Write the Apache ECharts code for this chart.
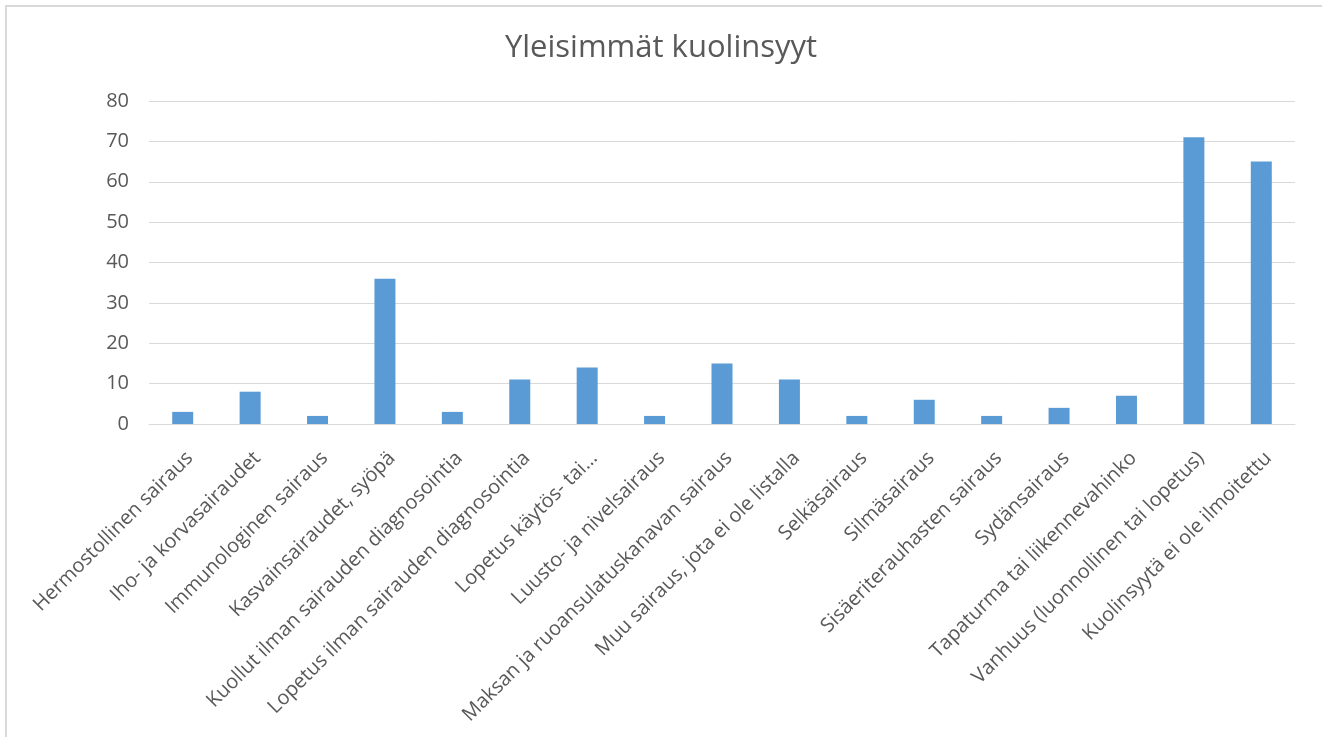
<!DOCTYPE html>
<html>
<head>
<meta charset="utf-8">
<script src="https://cdn.jsdelivr.net/npm/echarts@6/dist/echarts.min.js"></script>
<style>
  html, body { margin: 0; padding: 0; background: #fff; }
  #chart { width: 1322px; height: 737px; }
</style>
</head>
<body>
<div id="chart"></div>
<script>
// kuolinsyyt
const categories = [
  'Hermostollinen sairaus',
  'Iho- ja korvasairaudet',
  'Immunologinen sairaus',
  'Kasvainsairaudet, syöpä',
  'Kuollut ilman sairauden diagnosointia',
  'Lopetus ilman sairauden diagnosointia',
  'Lopetus käytös- tai…',
  'Luusto- ja nivelsairaus',
  'Maksan ja ruoansulatuskanavan sairaus',
  'Muu sairaus, jota ei ole listalla',
  'Selkäsairaus',
  'Silmäsairaus',
  'Sisäeriterauhasten sairaus',
  'Sydänsairaus',
  'Tapaturma tai liikennevahinko',
  'Vanhuus (luonnollinen tai lopetus)',
  'Kuolinsyytä ei ole ilmoitettu'
]
const values = [3, 8, 2, 36, 3, 11, 14, 2, 15, 11, 2, 6, 2, 4, 7, 71, 65]
const yTicks = [0, 10, 20, 30, 40, 50, 60, 70, 80]

const FONT = '"Open Sans", "Noto Sans", sans-serif'
const TEXT = '#595959'

const myChart = echarts.init(document.getElementById('chart'))

const option = {
  backgroundColor: '#fff',
  animation: false,
  textStyle: { fontFamily: FONT },
  title: {
    text: 'Yleisimmät kuolinsyyt',
    left: 'center',
    top: 28,
    textStyle: { color: TEXT, fontSize: 31, fontWeight: 'normal', fontFamily: FONT }
  },
  graphic: [{
    type: 'rect',
    shape: { x: 6, y: 6, width: 1330, height: 760 },
    style: { fill: 'none', stroke: '#d9d9d9', lineWidth: 2 },
    silent: true
  }],
  grid: {
    left: 149,
    right: 27,
    top: 101,
    height: 323,
    containLabel: false
  },
  xAxis: {
    type: 'category',
    data: categories,
    axisLine: { lineStyle: { color: '#d9d9d9', width: 1 } },
    axisTick: { show: false },
    axisLabel: {
      interval: 0,
      rotate: 45,
      align: 'right',
      verticalAlign: 'top',
      color: TEXT,
      fontSize: 20,
      fontFamily: FONT,
      margin: 24
    }
  },
  yAxis: {
    type: 'value',
    min: yTicks[0],
    max: yTicks[yTicks.length - 1],
    interval: 10,
    axisLine: { show: false },
    axisTick: { show: false },
    splitLine: { lineStyle: { color: '#d9d9d9', width: 1 } },
    axisLabel: { color: TEXT, fontSize: 20, fontFamily: FONT, margin: 20 }
  },
  series: [{
    type: 'bar',
    data: values,
    barWidth: 21,
    itemStyle: { color: '#5b9bd5' }
  }]
}
myChart.setOption(option)
</script>
</body>
</html>
